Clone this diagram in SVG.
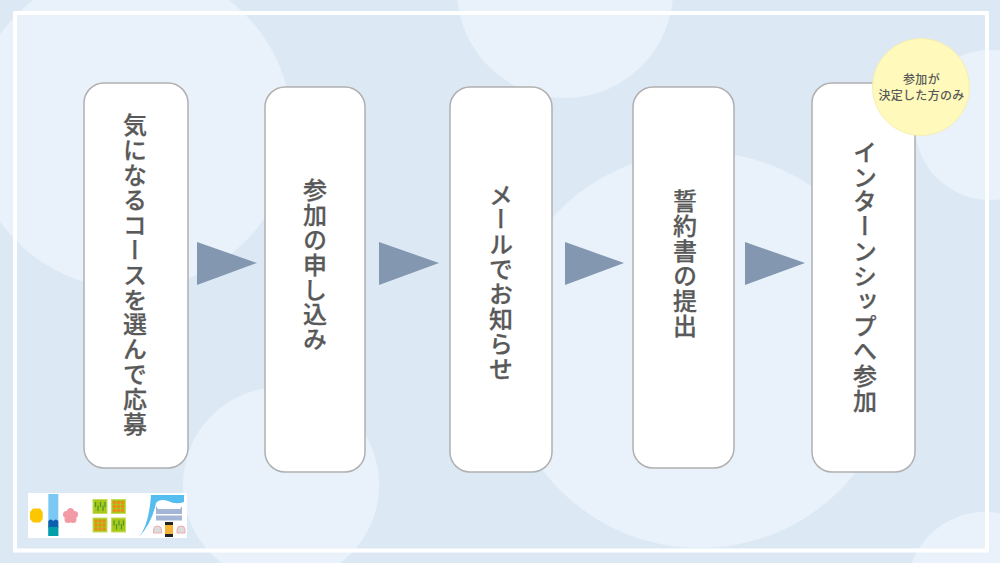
<svg xmlns="http://www.w3.org/2000/svg" width="1000" height="563" viewBox="0 0 1000 563">
<style>
.bg{fill:#e9f2fa}
.box{fill:#fff;stroke:#b0b0b0;stroke-width:1.5}
.t{font-family:"Noto Sans CJK JP","Noto Sans",sans-serif;font-weight:500;font-size:24px;fill:#595959;stroke:#595959;stroke-width:.25;writing-mode:vertical-rl;text-anchor:middle;letter-spacing:.9px}
.arrow{fill:#8497b0}
.s{font-family:"Noto Sans CJK JP","Noto Sans",sans-serif;font-weight:500;font-size:12px;fill:#595959;text-anchor:middle;letter-spacing:.3px}
.rice{stroke:#4f9a2c;stroke-width:1.300;fill:none}
.dot{fill:#f0871a}
.tile{fill:#a9c81a;stroke:#c6de55;stroke-width:1}
.dome{fill:#dcdcdc;stroke:#f2a9b0;stroke-width:1}
</style>
<defs>
<g id="ricetile"><rect class="tile" x="0" y="0" width="14" height="14"/><path class="rice" d="M2.500,2.500V7.500M5,6V11.500M7.500,2.500V7.500M10,6V11.500M12,2.500V7.500"/></g>
<g id="dottile"><rect class="tile" x="0" y="0" width="14" height="14"/><g class="dot"><circle cx="3" cy="3" r="1.700"/><circle cx="7" cy="3" r="1.700"/><circle cx="11" cy="3" r="1.700"/><circle cx="3" cy="7" r="1.700"/><circle cx="7" cy="7" r="1.700"/><circle cx="11" cy="7" r="1.700"/><circle cx="3" cy="11" r="1.700"/><circle cx="7" cy="11" r="1.700"/><circle cx="11" cy="11" r="1.700"/></g></g>
</defs>
<rect width="1000" height="563" fill="#dce9f5"/>
<g id="background">
<circle class="bg" cx="131" cy="128" r="161"/>
<circle class="bg" cx="565" cy="-10" r="108"/>
<circle class="bg" cx="990" cy="125" r="75"/>
<circle class="bg" cx="700" cy="350" r="198"/>
<circle class="bg" cx="281" cy="485" r="98"/>
<circle class="bg" cx="985" cy="590" r="78"/>
<rect x="15" y="13" width="972" height="537.500" fill="none" stroke="#fff" stroke-width="4"/>
</g>
<g id="connectors">
<polygon class="arrow" points="197,242 257,263 197,285"/>
<polygon class="arrow" points="379,242 439,263 379,285"/>
<polygon class="arrow" points="565,242 624,263 565,285"/>
<polygon class="arrow" points="745,242 805,263 745,285"/>
</g>
<g id="node1"><rect class="box" x="84" y="83" width="104" height="385" rx="20"/><text class="t" x="135" y="275">気になるコースを選んで応募</text></g>
<g id="node2"><rect class="box" x="265" y="87" width="100" height="385" rx="20"/><text class="t" x="315" y="265">参加の申し込み</text></g>
<g id="node3"><rect class="box" x="450" y="87" width="102" height="385" rx="20"/><text class="t" x="501" y="282">メールでお知らせ</text></g>
<g id="node4"><rect class="box" x="633" y="87" width="101" height="381" rx="20"/><text class="t" x="685" y="264">誓約書の提出</text></g>
<g id="node5"><rect class="box" x="812" y="83" width="103" height="389" rx="20"/><text class="t" x="865" y="276.500">インターンシップへ参加</text></g>
<g id="badge"><circle cx="921" cy="87" r="48.500" fill="#fffabb" stroke="#f5eeb0" stroke-width="1"/><text class="s" x="921.500" y="83.500">参加が</text><text class="s" x="921.500" y="99.500">決定した方のみ</text></g>
<g id="logo">
<rect x="28" y="493" width="159" height="45" fill="#fff"/>
<polygon points="33,508.500 40,508.500 42.700,512 42.700,519 40,522.500 33,522.500 30,519 30,512" fill="#fdc700"/>
<rect x="48.300" y="494" width="10" height="42" fill="#7cc8f5"/>
<path d="M48.300,521 q2.500,-3 5,0 q2.500,-3 5,0 V528 H48.300Z" fill="#0d5fb0"/>
<rect x="48.300" y="527" width="10" height="9" fill="#009faa"/>
<g fill="#f29aa5"><circle cx="70.500" cy="515.500" r="4"/><circle cx="70.500" cy="511.500" r="3.500"/><circle cx="74.500" cy="514.500" r="3.500"/><circle cx="73" cy="519.500" r="3.500"/><circle cx="68" cy="519.500" r="3.500"/><circle cx="66.500" cy="514.500" r="3.500"/></g>
<use href="#ricetile" x="93" y="499.500"/>
<use href="#dottile" x="111.500" y="499.500"/>
<use href="#dottile" x="93" y="518"/>
<use href="#ricetile" x="111.500" y="518"/>
<path d="M139,537 Q149,525 151,495 L184,495 L184,502 Q176,505 168,501 Q160,498 156,503 Q152,523 139,537Z" fill="#55bdf0"/>
<path d="M156,506 L158,509 H180 L182,506 V514 H156Z" fill="#a3b6d6"/>
<rect x="156" y="515.500" width="26" height="5" fill="#a3b6d6"/>
<rect x="165" y="522" width="8" height="15" fill="#f5b335"/>
<rect x="165" y="522" width="8" height="3" fill="#222"/>
<rect x="165" y="534" width="8" height="3" fill="#222"/>
<path class="dome" d="M153.500,533 v-3 a4,4 0 0 1 8,0 v3Z"/>
<path class="dome" d="M177,533 v-3 a4,4 0 0 1 8,0 v3Z"/>
</g>
</svg>
